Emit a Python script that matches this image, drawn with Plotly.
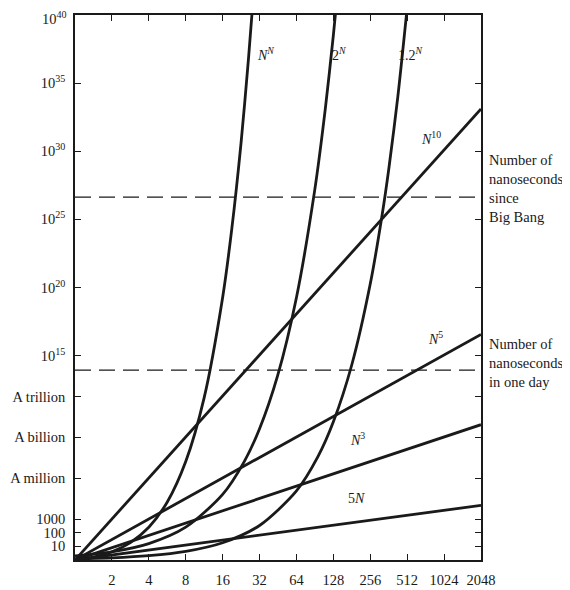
import plotly.graph_objects as go

# ---- data ----
# exponential curves: N samples and log10 of the value
nn_n = [1, 1.41, 2, 2.83, 4, 5.66, 8, 11.3, 16, 19, 22.6, 26, 28]
nn_exp = [0, 0.21, 0.602, 1.279, 2.408, 4.261, 7.225, 11.90, 19.27, 24.30, 30.60, 36.79, 40.52]

two_n = [1, 2, 4, 8, 16, 24, 32, 45, 64, 90, 110, 128, 136]
two_exp = [0.301, 0.602, 1.204, 2.408, 4.816, 7.225, 9.633, 13.55, 19.27, 27.09, 33.11, 38.53, 40.94]

onetwo_n = [1, 2, 4, 8, 16, 32, 64, 96, 128, 181, 256, 320, 362, 430, 512]
onetwo_exp = [0.079, 0.158, 0.317, 0.633, 1.267, 2.534, 5.068, 7.60, 10.14, 14.33, 20.27, 25.34, 28.66, 34.05, 40.54]

# straight (power-law) lines: endpoints
pow_n = [1, 2048]
n10_exp = [0, 33.11]
n5_exp = [0, 16.55]
n3_exp = [0, 9.93]
fiveN_exp = [0, 4.01]

ns_big_bang = 4.35e26
ns_one_day = 8.64e13

x_ticks = [2, 4, 8, 16, 32, 64, 128, 256, 512, 1024, 2048]
x_labels = ["2", "4", "8", "16", "32", "64", "128", "256", "512", "1024", "2048"]
y_ticks = [1e40, 1e35, 1e30, 1e25, 1e20, 1e15, 1e12, 1e9, 1e6, 1e3, 1e2, 1e1]
y_labels = ["", "10<sup>35</sup>", "10<sup>30</sup>", "10<sup>25</sup>",
            "10<sup>20</sup>", "10<sup>15</sup>", "A trillion", "A billion",
            "A million", "1000", "100", "10"]
y_top_label = "10<sup>40</sup>"

FONT = "Liberation Serif, Times New Roman, serif"
INK = "#1a1a1a"

fig = go.Figure()

def curve(xs, exps):
    fig.add_trace(go.Scatter(
        x=xs, y=[10 ** e for e in exps], mode="lines",
        line=dict(color=INK, width=2.8, shape="spline", smoothing=0.8),
        hoverinfo="skip", showlegend=False))

curve(nn_n, nn_exp)
curve(two_n, two_exp)
curve(onetwo_n, onetwo_exp)
for e in (n10_exp, n5_exp, n3_exp, fiveN_exp):
    curve(pow_n, e)

for v in (ns_big_bang, ns_one_day):
    fig.add_trace(go.Scatter(
        x=[1, 2048], y=[v, v], mode="lines",
        line=dict(color=INK, width=1.2, dash="16px,8px"),
        hoverinfo="skip", showlegend=False))

# curve labels
labels = [
    ("<i>N</i><sup><i>N</i></sup>", 0.468, 0.949),
    ("2<sup><i>N</i></sup>", 0.672, 0.949),
    ("1.2<sup><i>N</i></sup>", 0.862, 0.949),
    ("<i>N</i><sup>10</sup>", 0.906, 0.794),
    ("<i>N</i><sup>5</sup>", 0.911, 0.407),
    ("<i>N</i><sup>3</sup>", 0.719, 0.202),
    ("5<i>N</i>", 0.719, 0.095),
]
for t, x, y in labels:
    fig.add_annotation(text=t, x=x, y=y, xref="paper", yref="paper",
                       showarrow=False, font=dict(family=FONT, size=14, color=INK))

# top y label, kept fully inside the page
fig.add_annotation(text=y_top_label, x=-0.018, y=1.0128, xref="paper", yref="paper",
                   xanchor="right", yanchor="top", showarrow=False, borderpad=0,
                   font=dict(family=FONT, size=14.5, color=INK))

fig.add_annotation(text="Number of<br>nanoseconds<br>since<br>Big Bang",
                   x=1.015, y=0.752, xref="paper", yref="paper", xanchor="left",
                   yanchor="top", align="left", showarrow=False,
                   font=dict(family=FONT, size=14.5, color=INK))
fig.add_annotation(text="Number of<br>nanoseconds<br>in one day",
                   x=1.015, y=0.414, xref="paper", yref="paper", xanchor="left",
                   yanchor="top", align="left", showarrow=False,
                   font=dict(family=FONT, size=14.5, color=INK))

axis_common = dict(showgrid=False, zeroline=False, showline=True, linecolor=INK,
                   linewidth=1.5, mirror="ticks", ticks="inside", ticklen=6,
                   tickwidth=1.2, tickcolor=INK, automargin=False,
                   ticklabeloverflow="allow",
                   tickfont=dict(family=FONT, size=14.5, color=INK))

fig.update_xaxes(type="log", range=[0, 3.3113], tickvals=x_ticks, ticktext=x_labels,
                 ticklabelstandoff=6, **axis_common)
fig.update_yaxes(type="log", range=[0, 40], tickvals=y_ticks, ticktext=y_labels,
                 ticklabelstandoff=5, **axis_common)

# page body has an 8px margin, so the figure is sized/offset to compensate
fig.update_layout(width=562, height=582, margin=dict(l=67, r=89, t=7, b=30),
                  plot_bgcolor="white", paper_bgcolor="white")

fig.write_html("out.html")
